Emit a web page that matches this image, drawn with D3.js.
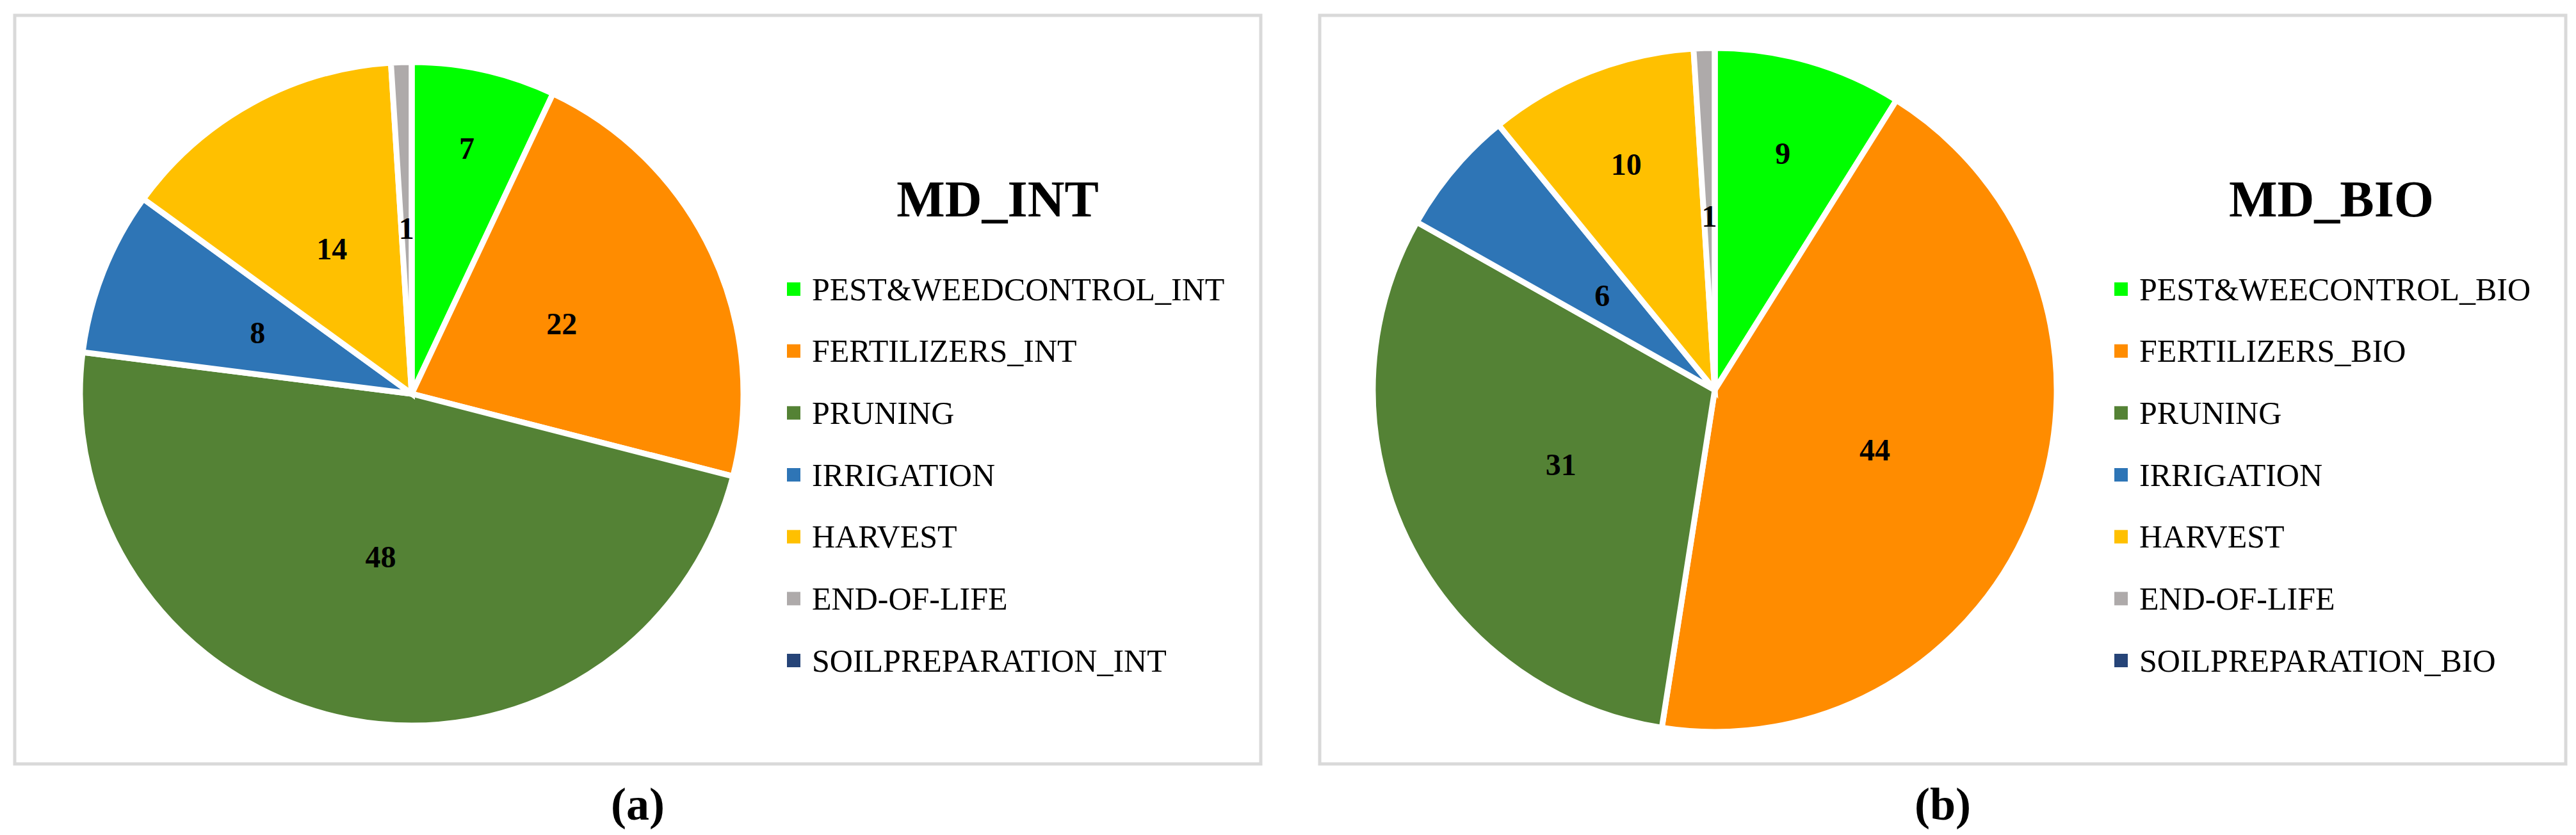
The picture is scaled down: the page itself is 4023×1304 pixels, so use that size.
<!DOCTYPE html>
<html lang="en">
<head>
<meta charset="utf-8">
<title>MD_INT / MD_BIO pies</title>
<script src="https://cdn.jsdelivr.net/npm/d3@7"></script>
<style>
  body { margin: 0; background: #fff; }
  svg text { font-family: "Liberation Serif", "DejaVu Serif", serif; fill: #000; }
  .frame { fill: #fff; stroke: #d9d9d9; stroke-width: 5px; }
  .slice { stroke: #fff; stroke-width: 9px; }
</style>
</head>
<body>
<svg id="chart" width="4023" height="1304"></svg>
<script>
// data
var categoriesINT = ["PEST&WEEDCONTROL_INT", "FERTILIZERS_INT", "PRUNING", "IRRIGATION", "HARVEST", "END-OF-LIFE", "SOILPREPARATION_INT"];
var categoriesBIO = ["PEST&WEECONTROL_BIO", "FERTILIZERS_BIO", "PRUNING", "IRRIGATION", "HARVEST", "END-OF-LIFE", "SOILPREPARATION_BIO"];
var valuesINT = [7, 22, 48, 8, 14, 1, 0];
var valuesBIO = [9, 44, 31, 6, 10, 1, 0];
var colors = ["#00ff00", "#ff8c00", "#548235", "#2e75b6", "#ffc000", "#aeaaaa", "#264478"];
var titles = ["MD_INT", "MD_BIO"];
var captions = ["(a)", "(b)"];

// layout of the two panels
var panels = [
  { x0: 23, x1: 1969, cx: 643, cy: 615, r: 518, labelR: [0.76, 0.5, 0.5, 0.5, 0.5, 0.5, 0.5],
    legendX: 1229, titleX: 1558, cats: categoriesINT, vals: valuesINT },
  { x0: 2061, x1: 4007, cx: 2678, cy: 609, r: 534, labelR: [0.72, 0.5, 0.5, 0.43, 0.71, 0.51, 0.5],
    legendX: 3302, titleX: 3641, cats: categoriesBIO, vals: valuesBIO }
];
var frameTop = 24, frameBottom = 1193;

var svg = d3.select("#chart");
var pie = d3.pie().sort(null).value(function(d) { return d.value; });

panels.forEach(function(p, k) {
  var g = svg.append("g");

  g.append("rect").attr("class", "frame")
    .attr("x", p.x0).attr("y", frameTop)
    .attr("width", p.x1 - p.x0).attr("height", frameBottom - frameTop);

  var rows = p.cats.map(function(c, i) { return { name: c, value: p.vals[i], color: colors[i] }; });
  var arcs = pie(rows);
  var arc = d3.arc().innerRadius(0).outerRadius(p.r);

  var pg = g.append("g").attr("transform", "translate(" + p.cx + "," + p.cy + ")");
  pg.selectAll("path.slice")
    .data(arcs)
    .enter().append("path")
      .attr("class", "slice")
      .attr("fill", function(d) { return d.data.color; })
      .attr("d", arc);

  // data labels, Excel best-fit places them at different depths
  pg.selectAll("text.lbl")
    .data(arcs.filter(function(d) { return d.data.value > 0; }))
    .enter().append("text")
      .attr("class", "lbl")
      .attr("text-anchor", "middle")
      .attr("dy", "0.35em")
      .style("font-size", "48px")
      .style("font-weight", "bold")
      .attr("transform", function(d) {
        var rr = p.r * p.labelR[d.index];
        var c = d3.arc().innerRadius(rr).outerRadius(rr).centroid(d);
        return "translate(" + c[0] + "," + c[1] + ")";
      })
      .text(function(d) { return d.data.value; });

  // title
  g.append("text")
    .attr("x", p.titleX).attr("y", 338)
    .attr("text-anchor", "middle")
    .style("font-size", "80px").style("font-weight", "bold")
    .text(titles[k]);

  // legend
  var y = d3.scalePoint().domain(d3.range(rows.length)).range([451, 1031]);
  var lg = g.append("g").selectAll("g").data(rows).enter().append("g")
    .attr("transform", function(d, i) { return "translate(" + p.legendX + "," + y(i) + ")"; });
  lg.append("rect")
    .attr("x", 0).attr("y", -10).attr("width", 21).attr("height", 21)
    .attr("fill", function(d) { return d.color; });
  lg.append("text")
    .attr("x", 39).attr("y", 0).attr("dy", "0.35em")
    .style("font-size", "50px")
    .text(function(d) { return d.name; });

  // caption
  svg.append("text")
    .attr("x", (p.x0 + p.x1) / 2).attr("y", 1280)
    .attr("text-anchor", "middle")
    .style("font-size", "72px").style("font-weight", "bold")
    .text(captions[k]);
});
</script>
</body>
</html>
